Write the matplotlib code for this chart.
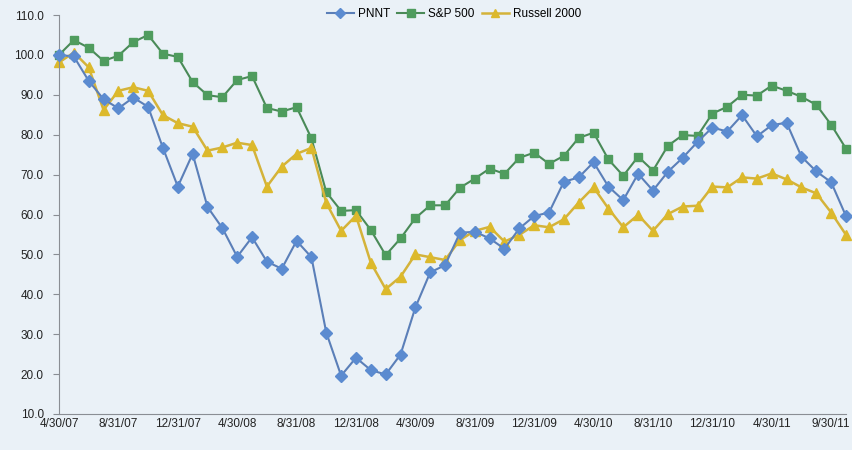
import matplotlib
matplotlib.use("Agg")
import matplotlib.pyplot as plt

plt.rcParams["font.family"] = ["Liberation Sans", "DejaVu Sans"]

# monthly points, 4/30/07 .. 10/31/11 (54 points)
n_points = 54
tick_idx = [0, 4, 8, 12, 16, 20, 24, 28, 32, 36, 40, 44, 48, 52]
tick_labels = ["4/30/07", "8/31/07", "12/31/07", "4/30/08", "8/31/08", "12/31/08",
               "4/30/09", "8/31/09", "12/31/09", "4/30/10", "8/31/10", "12/31/10",
               "4/30/11", "9/30/11"]

pnnt = [100.0, 99.6, 93.5, 88.9, 86.6, 89.3, 87.0, 76.7, 67.0, 75.2,
        61.9, 56.6, 49.4, 54.3, 48.2, 46.4, 53.4, 49.3, 30.4, 19.6,
        24.1, 21.0, 19.9, 24.9, 36.7, 45.5, 47.3, 55.4, 55.7, 54.0,
        51.4, 56.5, 59.6, 60.5, 68.2, 69.3, 73.1, 67.0, 63.6, 70.2,
        66.0, 70.7, 74.2, 78.2, 81.8, 80.8, 84.9, 79.6, 82.4, 83.0,
        74.5, 70.8, 68.1, 59.6]

sp500 = [100.0, 103.7, 101.8, 98.5, 99.8, 103.2, 105.0, 100.3, 99.5, 93.2,
         89.9, 89.4, 93.7, 94.7, 86.7, 85.8, 86.9, 79.1, 65.6, 60.9,
         61.1, 56.1, 49.8, 54.0, 59.1, 62.3, 62.3, 66.7, 69.0, 71.5,
         70.2, 74.2, 75.5, 72.7, 74.7, 79.2, 80.5, 73.8, 69.7, 74.5,
         71.0, 77.2, 79.9, 79.7, 85.3, 87.0, 90.0, 89.8, 92.3, 91.0,
         89.5, 87.5, 82.5, 76.5]

russell = [98.1, 100.6, 96.9, 86.2, 91.0, 91.9, 91.0, 84.9, 82.9, 82.0,
           76.0, 76.8, 78.0, 77.4, 67.0, 72.0, 75.2, 76.7, 62.9, 55.9,
           59.7, 47.9, 41.3, 44.4, 50.0, 49.3, 48.6, 53.6, 55.9, 56.9,
           53.2, 54.9, 57.3, 56.8, 58.8, 63.0, 66.8, 61.5, 56.8, 59.9,
           55.9, 60.1, 62.0, 62.2, 67.0, 66.8, 69.3, 69.0, 70.3, 68.8,
           66.8, 65.3, 60.5, 54.9]

bg = "#eaf1f7"
axis_col = "#8a8e94"

fig = plt.figure(figsize=(8.53, 4.5), dpi=100)
fig.patch.set_facecolor(bg)
ax = fig.add_axes([59 / 853, 1 - 414 / 450, 787 / 853, 399 / 450])
ax.set_facecolor(bg)

x = list(range(n_points))
ax.plot(x, pnnt, color="#5b7fb8", lw=1.5, marker="D", ms=6,
        mfc="#5b8bd0", mec="#5b8bd0", label="PNNT", clip_on=False, zorder=3)
ax.plot(x, sp500, color="#4a8a58", lw=1.5, marker="s", ms=6,
        mfc="#4f9c5e", mec="#4f9c5e", label="S&P 500", clip_on=False, zorder=2)
ax.plot(x, russell, color="#d4b33a", lw=1.8, marker="^", ms=7.5,
        mfc="#dcb92c", mec="#dcb92c", label="Russell 2000", clip_on=False, zorder=2.5)

ax.set_xlim(0, n_points - 1)
ax.set_ylim(10, 110)
ax.set_yticks(range(10, 111, 10))
ax.set_yticklabels([f"{v:.1f}" for v in range(10, 111, 10)])
ax.set_xticks(tick_idx)
ax.set_xticklabels(tick_labels)

for s in ["top", "right"]:
    ax.spines[s].set_visible(False)
ax.spines["left"].set_color(axis_col)
ax.spines["bottom"].set_color(axis_col)
ax.tick_params(axis="y", length=4, color=axis_col, labelsize=8.5,
               labelcolor="#222222", pad=7)
ax.tick_params(axis="x", length=0, labelsize=8.5, labelcolor="#222222", pad=3)

fig.legend(loc="center", bbox_to_anchor=(454 / 853, 1 - 14 / 450), ncol=3,
           frameon=False, fontsize=8.5, handlelength=2.3, handletextpad=0.35,
           columnspacing=0.6, markerscale=0.85)

fig.savefig("out.png", dpi=100, facecolor=fig.get_facecolor())
